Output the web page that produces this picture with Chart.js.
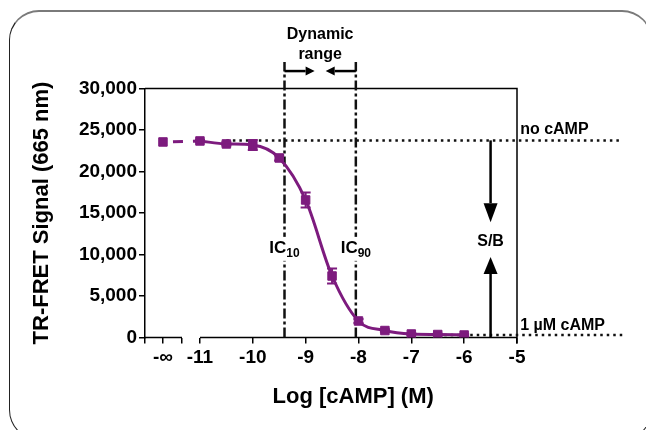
<!DOCTYPE html>
<html>
<head>
<meta charset="utf-8">
<script src="https://cdn.jsdelivr.net/npm/chart.js@4"></script>
<style>
  html, body { margin: 0; padding: 0; background: #fff; overflow: hidden; }
  #wrap { position: relative; width: 646px; height: 430px; overflow: hidden; }
  #frame {
    position: absolute; left: 9px; top: 10px; width: 643px; height: 430px;
    border: 1.5px solid #222; border-top: 2px solid #7a7a7a;
    border-radius: 30px; box-sizing: border-box;
  }
  canvas { position: absolute; left: 0; top: 0; }
</style>
</head>
<body>
<div id="wrap">
  <div id="frame"></div>
  <canvas id="chart" width="646" height="430"></canvas>
</div>
<script>
const PURPLE = "#7d1b7e";
const FONT = "'Liberation Sans', Arial, sans-serif";

// Log [cAMP] (M) and TR-FRET signal; the -inf (no cAMP) well sits on the broken part of the axis
const NEG_INF = -11.7;
const logConc = [-11, -10.5, -10, -9.5, -9, -8.5, -8, -7.5, -7, -6.5, -6];
const signal = [23680, 23320, 23200, 21630, 16570, 7410, 1990, 840, 420, 360, 300];
const signalErr = [150, 200, 600, 300, 900, 900, 250, 150, 100, 100, 100];
const zeroSignal = 23560;

// axis: broken segment from X_MIN to BREAK_END holds the -inf tick
const X_MIN = -12.04;
const X_MAX = -5;
const BREAK_END = -11.34;
const xTicks = [X_MIN, NEG_INF, BREAK_END, -11, -10, -9, -8, -7, -6, -5];
const xTickLabels = ["", "-\u221e", "", "-11", "-10", "-9", "-8", "-7", "-6", "-5"];
const yTicks = [0, 5000, 10000, 15000, 20000, 25000, 30000];

// reference levels and markers
const NO_CAMP = 23750;
const FULL_CAMP = 300;
const IC10 = -9.4;
const IC90 = -8.05;
const IC_TOP = 33200;
const LEVEL_END = -3.0;
const SB_X = -5.5;

function arrow(ctx, x1, y1, x2, y2, len, half) {
    const a = Math.atan2(y2 - y1, x2 - x1);
    const bx = x2 - len * Math.cos(a), by = y2 - len * Math.sin(a);
    ctx.beginPath();
    ctx.moveTo(x1, y1);
    ctx.lineTo(bx, by);
    ctx.stroke();
    ctx.beginPath();
    ctx.moveTo(x2, y2);
    ctx.lineTo(bx - half * Math.sin(a), by + half * Math.cos(a));
    ctx.lineTo(bx + half * Math.sin(a), by - half * Math.cos(a));
    ctx.closePath();
    ctx.fill();
}

function icLabel(ctx, x, y, sub) {
    ctx.font = "bold 17px " + FONT;
    const w1 = ctx.measureText("IC").width;
    ctx.font = "bold 12px " + FONT;
    const w2 = ctx.measureText(sub).width;
    const left = x - (w1 + w2) / 2;
    ctx.fillStyle = "#fff";
    ctx.fillRect(left - 2, y - 11, w1 + w2 + 4, 24);
    ctx.fillStyle = "#000";
    ctx.textAlign = "left";
    ctx.font = "bold 17px " + FONT;
    ctx.fillText("IC", left, y);
    ctx.font = "bold 12px " + FONT;
    ctx.fillText(sub, left + w1, y + 6);
}

const extras = {
    id: "extras",
    beforeDatasetsDraw(chart) {
        const { ctx, chartArea: a, scales: { x } } = chart;
        ctx.save();
        ctx.strokeStyle = "#000";
        ctx.lineWidth = 1.5;
        ctx.beginPath();
        // x axis with break
        ctx.moveTo(a.left, a.bottom);
        ctx.lineTo(x.getPixelForValue(BREAK_END), a.bottom);
        ctx.moveTo(x.getPixelForValue(-11), a.bottom);
        ctx.lineTo(a.right, a.bottom);
        // top and right frame of the plot
        ctx.moveTo(a.left, a.top);
        ctx.lineTo(a.right, a.top);
        ctx.lineTo(a.right, a.bottom + 6);
        ctx.stroke();
        ctx.restore();
    },
    afterDatasetsDraw(chart) {
        const { ctx, scales: { x, y } } = chart;
        const meta = chart.getDatasetMeta(0);
        ctx.save();
        // error bars
        ctx.strokeStyle = PURPLE;
        ctx.lineWidth = 2;
        meta.data.forEach((pt, i) => {
            const top = y.getPixelForValue(signal[i] + signalErr[i]);
            const bot = y.getPixelForValue(signal[i] - signalErr[i]);
            ctx.beginPath();
            ctx.moveTo(pt.x, top); ctx.lineTo(pt.x, bot);
            ctx.moveTo(pt.x - 5, top); ctx.lineTo(pt.x + 5, top);
            ctx.moveTo(pt.x - 5, bot); ctx.lineTo(pt.x + 5, bot);
            ctx.stroke();
        });

        ctx.fillStyle = "#000";
        ctx.strokeStyle = "#000";
        ctx.lineWidth = 2.5;
        // dynamic range arrows
        const ay = y.getPixelForValue(32100);
        arrow(ctx, x.getPixelForValue(IC10), ay, x.getPixelForValue(-8.83), ay, 9, 4.5);
        arrow(ctx, x.getPixelForValue(IC90), ay, x.getPixelForValue(-8.62), ay, 9, 4.5);
        // S/B arrows
        const sx = x.getPixelForValue(SB_X);
        arrow(ctx, sx, y.getPixelForValue(NO_CAMP), sx, y.getPixelForValue(13900), 19, 7);
        arrow(ctx, sx, y.getPixelForValue(0), sx, y.getPixelForValue(9700), 17, 7);

        ctx.textBaseline = "middle";
        ctx.textAlign = "center";
        ctx.font = "bold 16px " + FONT;
        const mid = x.getPixelForValue((IC10 + IC90) / 2);
        ctx.fillText("Dynamic", mid, y.getPixelForValue(36450));
        ctx.fillText("range", mid, y.getPixelForValue(34040));
        ctx.fillText("S/B", sx, y.getPixelForValue(11500));

        ctx.textAlign = "left";
        ctx.fillText("no cAMP", x.getPixelForValue(-4.94), y.getPixelForValue(25000));
        ctx.fillText("1 \u00b5M cAMP", x.getPixelForValue(-4.94), y.getPixelForValue(1390));

        icLabel(ctx, x.getPixelForValue(IC10), y.getPixelForValue(10800), "10");
        icLabel(ctx, x.getPixelForValue(IC90), y.getPixelForValue(10800), "90");

        // x axis title
        ctx.textAlign = "center";
        ctx.font = "bold 22px " + FONT;
        ctx.fillText("Log [cAMP] (M)", x.getPixelForValue(-8.1), 397);
        ctx.restore();
    }
};

const refLine = {
    borderColor: "#111",
    borderWidth: 2.5,
    pointRadius: 0,
    clip: false,
    fill: false,
    order: 2
};

new Chart(document.getElementById("chart"), {
    type: "line",
    data: {
        datasets: [
            {
                label: "fit",
                data: logConc.map((v, i) => ({ x: v, y: signal[i] })),
                borderColor: PURPLE,
                backgroundColor: PURPLE,
                borderWidth: 3,
                pointStyle: "rect",
                pointRadius: 6,
                pointBorderWidth: 1,
                cubicInterpolationMode: "monotone",
                order: 0
            },
            {
                label: "no cAMP well",
                data: [{ x: NEG_INF, y: zeroSignal }, { x: logConc[0], y: signal[0] }],
                borderColor: PURPLE,
                backgroundColor: PURPLE,
                borderWidth: 3,
                borderDash: [10, 10],
                borderDashOffset: 10,
                pointStyle: "rect",
                pointRadius: [6, 0],
                pointBorderWidth: 1,
                order: 1
            },
            Object.assign({
                label: "no cAMP",
                data: [{ x: -10.5, y: NO_CAMP }, { x: LEVEL_END, y: NO_CAMP }],
                borderDash: [2.5, 4]
            }, refLine),
            Object.assign({
                label: "1 uM cAMP",
                data: [{ x: -6.5, y: FULL_CAMP }, { x: LEVEL_END, y: FULL_CAMP }],
                borderDash: [2.5, 4]
            }, refLine),
            Object.assign({
                label: "IC10",
                data: [{ x: IC10, y: 0 }, { x: IC10, y: IC_TOP }],
                borderDash: [10, 3, 3, 3]
            }, refLine),
            Object.assign({
                label: "IC90",
                data: [{ x: IC90, y: 0 }, { x: IC90, y: IC_TOP }],
                borderDash: [10, 3, 3, 3]
            }, refLine)
        ]
    },
    options: {
        responsive: false,
        animation: false,
        devicePixelRatio: 1,
        layout: { padding: { left: 0, top: 88.5, right: 129, bottom: 0 } },
        plugins: { legend: { display: false }, tooltip: { enabled: false } },
        scales: {
            x: {
                type: "linear",
                min: X_MIN,
                max: X_MAX,
                border: { display: false },
                grid: { drawOnChartArea: false, color: "#000", lineWidth: 1.5, tickLength: 6 },
                afterBuildTicks: s => { s.ticks = xTicks.map(v => ({ value: v })); },
                afterFit: s => { s.height = 92.5; },
                ticks: {
                    autoSkip: false,
                    maxRotation: 0,
                    padding: 3,
                    color: "#000",
                    font: { family: FONT, size: 19, weight: "bold" },
                    callback: (v, i) => xTickLabels[i]
                }
            },
            y: {
                min: 0,
                max: 30000,
                border: { display: true, color: "#000", width: 1.5 },
                grid: { drawOnChartArea: false, color: "#000", lineWidth: 1.5, tickLength: 6 },
                afterBuildTicks: s => { s.ticks = yTicks.map(v => ({ value: v })); },
                afterFit: s => { s.width = 145; },
                ticks: {
                    padding: 2,
                    color: "#000",
                    font: { family: FONT, size: 19, weight: "bold" },
                    callback: v => v.toLocaleString("en-US")
                },
                title: {
                    display: true,
                    text: "TR-FRET Signal (665 nm)",
                    color: "#000",
                    font: { family: FONT, size: 22, weight: "bold" },
                    padding: { top: 29, bottom: 0 }
                }
            }
        }
    },
    plugins: [extras]
});
</script>
</body>
</html>
